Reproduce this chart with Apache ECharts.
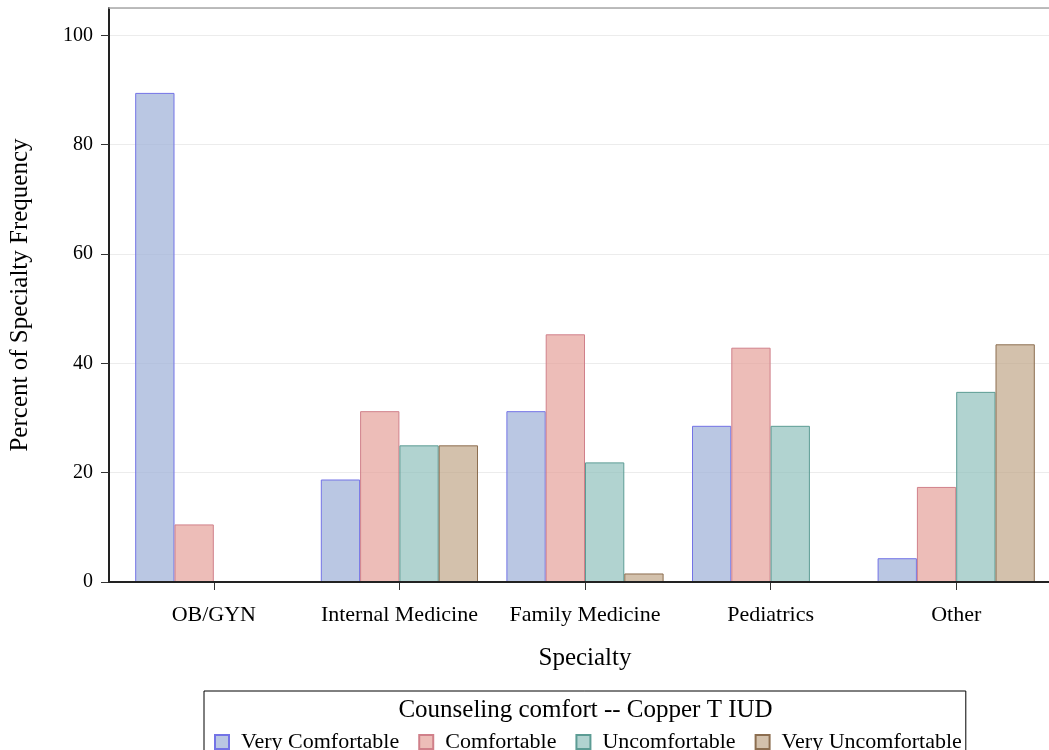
<!DOCTYPE html>
<html>
<head>
<meta charset="utf-8">
<script src="https://cdn.jsdelivr.net/npm/echarts@6/dist/echarts.min.js"></script>
<style>
  html, body { margin: 0; padding: 0; background: #fff; }
  #chart { width: 1049px; height: 750px; }
</style>
</head>
<body>
<div id="chart"></div>
<script>
// Specialty groups along the x axis
const specialties = ['OB/GYN', 'Internal Medicine', 'Family Medicine', 'Pediatrics', 'Other'];

// Percent of each specialty reporting each comfort level
const veryComfortable   = [89.47, 18.75, 31.25, 28.57, 4.35];
const comfortable       = [10.53, 31.25, 45.31, 42.86, 17.39];
const uncomfortable     = [0, 25.00, 21.88, 28.57, 34.78];
const veryUncomfortable = [0, 25.00, 1.56, 0, 43.48];

const levelNames = ['Very Comfortable', 'Comfortable', 'Uncomfortable', 'Very Uncomfortable'];
const levelValues = [veryComfortable, comfortable, uncomfortable, veryUncomfortable];

// Y axis tick values
const yTicks = [0, 20, 40, 60, 80, 100];

const fills   = ['rgba(160,178,216,0.72)', 'rgba(228,158,150,0.68)', 'rgba(140,190,185,0.68)', 'rgba(190,163,132,0.68)'];
const borders = ['#7373e6', '#d0808a', '#5c9c94', '#8c6e50'];

const FONT = 'Liberation Serif';

const chart = echarts.init(document.getElementById('chart'), null, { renderer: 'canvas' });

const series = levelNames.map((name, i) => ({
  name: name,
  type: 'bar',
  xAxisIndex: 0,
  yAxisIndex: 0,
  barWidth: 39.3,
  barGap: '0%',
  data: levelValues[i],
  itemStyle: { color: fills[i], borderColor: borders[i], borderWidth: 1 },
  emphasis: { disabled: true }
}));

chart.setOption({
  animation: false,
  backgroundColor: '#fff',
  textStyle: { fontFamily: FONT },
  title: {
    text: 'Counseling comfort -- Copper T IUD',
    left: 585.5,
    textAlign: 'center',
    top: 698,
    padding: 0,
    textStyle: { fontFamily: FONT, fontSize: 25, fontWeight: 'normal', color: '#000' }
  },
  legend: {
    data: levelNames,
    left: 204,
    top: 691,
    orient: 'horizontal',
    padding: [40, 4, 12, 10],
    borderColor: '#000',
    borderWidth: 1,
    itemWidth: 14,
    itemHeight: 14,
    itemGap: 19,
    icon: 'rect',
    textStyle: { fontFamily: FONT, fontSize: 22, color: '#000', padding: [0, 0, 0, 7] }
  },
  grid: [
    // plot area holding the bars
    { left: 121, width: 930, top: 8, bottom: 168, containLabel: false },
    // frame lines and gridlines, running from the y axis off the right edge
    { left: 109, width: 1000, top: 8, bottom: 168, show: false }
  ],
  xAxis: [
    {
      gridIndex: 0,
      type: 'category',
      data: specialties,
      boundaryGap: true,
      name: 'Specialty',
      nameLocation: 'middle',
      nameGap: 64,
      nameTextStyle: { fontFamily: FONT, fontSize: 25, color: '#000' },
      axisLine: { show: false },
      axisTick: { show: true, interval: 0, alignWithLabel: true, length: 8, lineStyle: { color: '#333', width: 1 } },
      axisLabel: { fontFamily: FONT, fontSize: 22, color: '#000', margin: 22, interval: 0, hideOverlap: false },
      splitLine: { show: false }
    },
    {
      gridIndex: 1,
      type: 'value',
      position: 'bottom',
      min: 0,
      max: 1,
      z: 5,
      axisLine: { show: true, onZero: false, lineStyle: { color: '#222', width: 2 } },
      axisTick: { show: false },
      axisLabel: { show: false },
      splitLine: { show: false }
    },
    {
      gridIndex: 1,
      type: 'value',
      position: 'top',
      min: 0,
      max: 1,
      axisLine: { show: true, onZero: false, lineStyle: { color: '#a8a8a8', width: 1.5 } },
      axisTick: { show: false },
      axisLabel: { show: false },
      splitLine: { show: false }
    }
  ],
  yAxis: [
    {
      gridIndex: 0,
      type: 'value',
      min: 0,
      max: 105,
      interval: 20,
      offset: 12,
      name: 'Percent of Specialty Frequency',
      nameLocation: 'middle',
      nameGap: 76,
      nameTextStyle: { fontFamily: FONT, fontSize: 25, color: '#000' },
      axisLine: { show: true, lineStyle: { color: '#222', width: 2 } },
      axisTick: { show: true, length: 8, customValues: yTicks, lineStyle: { color: '#333', width: 1 } },
      axisLabel: { fontFamily: FONT, fontSize: 20, color: '#000', margin: 16, customValues: yTicks },
      splitLine: { show: false }
    },
    {
      gridIndex: 1,
      type: 'value',
      min: 0,
      max: 105,
      interval: 20,
      axisLine: { show: false },
      axisTick: { show: false },
      axisLabel: { show: false },
      splitLine: { show: true, lineStyle: { color: '#ececec', width: 1 } }
    }
  ],
  series: series
});
</script>
</body>
</html>
